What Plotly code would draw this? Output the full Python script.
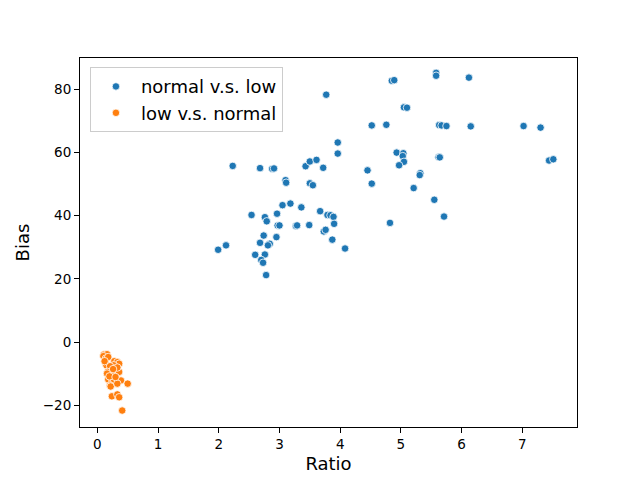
import plotly.graph_objects as go

# normal v.s. low
ratio_nl = [3.77, 4.52, 3.96, 3.96, 2.23, 2.68, 2.88, 2.91, 3.43, 3.50, 3.61, 3.72,
            4.45, 4.52, 3.10, 3.11, 3.50, 3.55, 3.05, 3.18, 3.36, 2.54, 2.76, 2.79,
            2.96, 3.67, 3.79, 3.84, 3.89, 3.90, 2.97, 3.00, 3.27, 3.29, 3.49, 3.73,
            3.76, 2.74, 2.95, 2.68, 2.84, 2.81, 3.87, 1.99, 2.12, 4.08, 2.60, 2.76,
            2.70, 2.73, 2.78, 4.85, 4.89, 5.58, 5.58, 6.12, 5.05, 5.10, 4.76, 5.63,
            5.67, 5.75, 6.15, 7.02, 7.30, 7.44, 7.51, 4.93, 5.04, 5.03, 5.05, 4.97,
            5.62, 5.64, 5.32, 5.31, 5.21, 5.55, 5.71, 4.82]
bias_nl = [78.2, 68.5, 63.1, 59.6, 55.7, 55.0, 54.8, 54.9, 55.6, 57.1, 57.6, 55.1,
           54.3, 50.1, 51.2, 50.4, 50.2, 49.6, 43.3, 43.8, 42.6, 40.2, 39.5, 38.2,
           40.6, 41.4, 40.2, 40.1, 39.6, 37.4, 36.9, 36.9, 36.7, 36.9, 37.0, 35.0,
           35.5, 33.7, 33.2, 31.4, 31.1, 30.6, 32.4, 29.2, 30.6, 29.6, 27.6, 27.7,
           26.0, 25.1, 21.2, 82.6, 82.8, 85.1, 84.2, 83.6, 74.2, 74.1, 68.7, 68.6,
           68.5, 68.3, 68.2, 68.3, 67.8, 57.4, 57.8, 59.9, 59.7, 58.8, 57.0, 55.9,
           58.4, 58.4, 53.4, 52.8, 48.7, 45.0, 39.7, 37.7]

# low v.s. normal
ratio_ln = [0.11, 0.16, 0.10, 0.14, 0.18, 0.15, 0.28, 0.33, 0.36, 0.27, 0.21, 0.17,
            0.16, 0.29, 0.36, 0.33, 0.18, 0.25, 0.28, 0.39, 0.21, 0.22, 0.33, 0.50,
            0.24, 0.33, 0.36, 0.41, 0.12, 0.20, 0.30, 0.26]
bias_ln = [-3.9, -3.8, -4.4, -5.2, -4.7, -7.3, -6.0, -6.3, -6.8, -7.3, -7.6, -9.4,
           -9.9, -9.7, -9.4, -8.0, -11.8, -12.3, -12.1, -12.1, -13.7, -14.0, -13.1, -13.1,
           -17.1, -16.5, -17.4, -21.6, -6.0, -10.8, -11.0, -8.5]

fig = go.Figure()
fig.add_trace(go.Scatter(x=ratio_nl, y=bias_nl, mode="markers", name="normal v.s. low",
                         marker=dict(color="#1f77b4", size=7.5,
                                     line=dict(color="white", width=0.8))))
fig.add_trace(go.Scatter(x=ratio_ln, y=bias_ln, mode="markers", name="low v.s. normal",
                         marker=dict(color="#ff7f0e", size=7.5,
                                     line=dict(color="white", width=0.8))))

axis_style = dict(showline=True, linecolor="black", linewidth=1, mirror=True,
                  ticks="outside", ticklen=5, tickcolor="black", showgrid=False,
                  zeroline=False, tickfont=dict(size=13.5, color="black"))

# page body has an 8px margin, so the plot box is pulled up/left by that much
fig.update_layout(
    width=640, height=480,
    margin=dict(l=72, r=71, t=50, b=61),
    paper_bgcolor="white", plot_bgcolor="white",
    font=dict(family="DejaVu Sans", color="black"),
    xaxis=dict(range=[-0.285, 7.90], tickvals=[0, 1, 2, 3, 4, 5, 6, 7],
               title=dict(text="Ratio", font=dict(size=18), standoff=6), **axis_style),
    yaxis=dict(range=[-26.8, 89.8], tickvals=[-20, 0, 20, 40, 60, 80],
               title=dict(text="Bias", font=dict(size=18), standoff=8), **axis_style),
    legend=dict(x=0.02, y=0.975, xanchor="left", yanchor="top",
                bgcolor="rgba(255,255,255,0.8)", bordercolor="#cccccc", borderwidth=1,
                font=dict(size=18), itemwidth=40),
    showlegend=True,
)

fig.write_html("out.html")
